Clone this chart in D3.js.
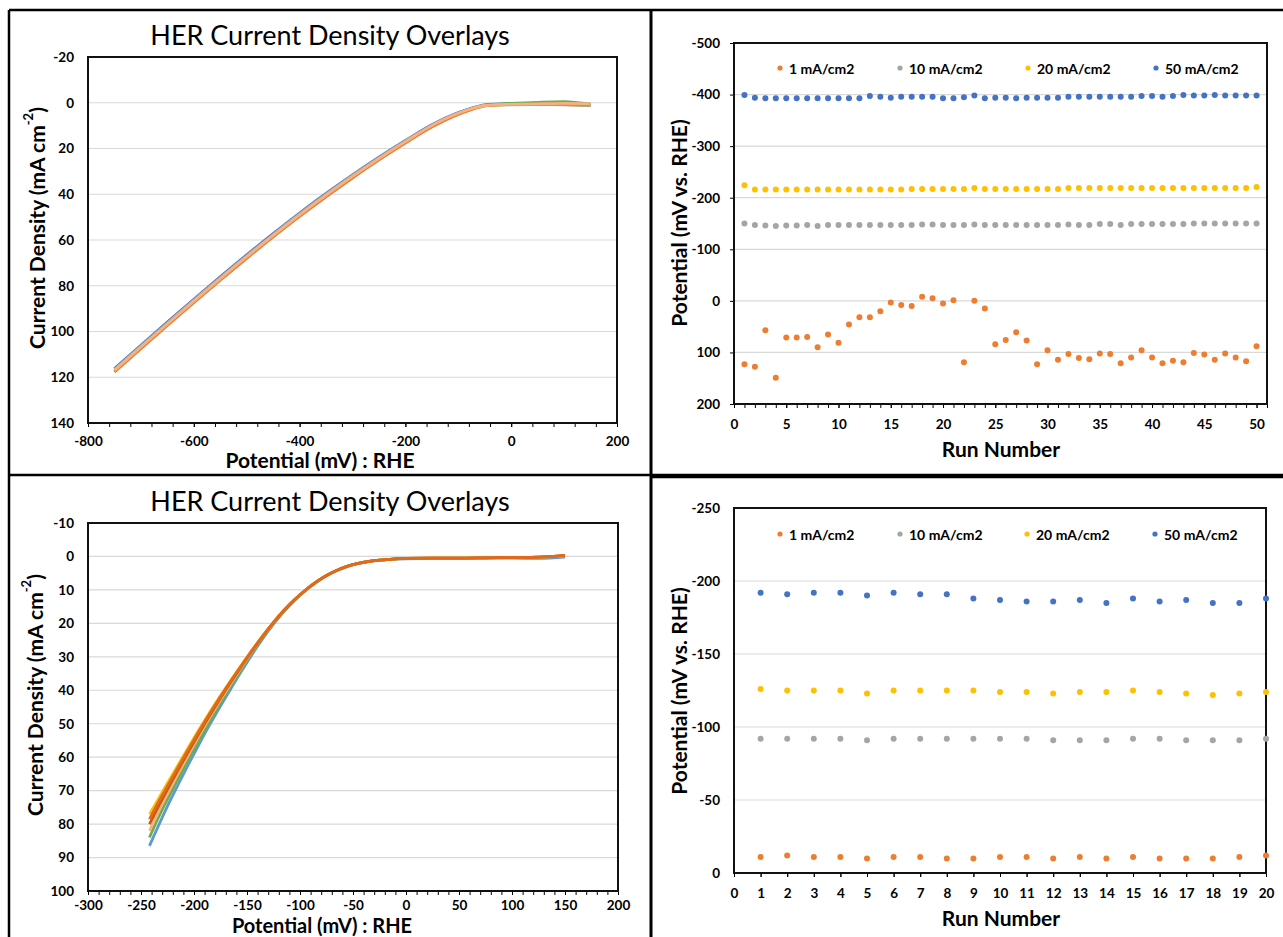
<!DOCTYPE html>
<html>
<head>
<meta charset="utf-8">
<script src="https://cdn.jsdelivr.net/npm/d3@7"></script>
<style>
  body { margin: 0; background: #fff; }
  svg { display: block; font-family: Lato, "Open Sans", sans-serif; }
  .tick text { font-weight: bold; font-size: 13.5px; fill: #000; font-family: Lato, sans-serif; }
  .tick line { stroke: #000; }
  .axis-title { font-weight: bold; font-size: 21px; fill: #000; }
  .chart-title { font-size: 27px; fill: #000; }
  .legend text { font-weight: bold; font-size: 14px; fill: #000; }
</style>
</head>
<body>
<div id="chart"></div>
<script>
// ---------- Data ----------
// Top-left: LSV overlays (potential mV vs RHE -> current density mA cm-2)
const tlPotential = [-750, -700, -650, -600, -550, -500, -450, -400, -350, -300, -250,
  -200, -150, -100, -75, -50, -25, 0, 50, 100, 150];
const tlRunA = [116.2, 106.0, 95.9, 85.9, 76.1, 66.5, 57.2, 48.2, 39.6, 31.5, 23.8, 16.5, 9.6, 4.3, 2.3, 0.9, 0.6, 0.4, 0.2, 0.0, 1.0];
const tlRunB = [117.6, 107.3, 97.1, 87.1, 77.3, 67.7, 58.4, 49.4, 40.8, 32.6, 24.8, 17.3, 10.3, 4.8, 2.8, 1.0, 0.6, 0.3, -0.2, -0.5, 0.6];
const tlRunC = [117.3, 107.1, 97.0, 87.0, 77.2, 67.6, 58.3, 49.3, 40.7, 32.5, 24.7, 17.3, 10.3, 4.9, 2.9, 1.4, 0.9, 0.8, 0.7, 0.8, 1.4];
const tlRunD = [116.6, 106.4, 96.3, 86.3, 76.5, 66.9, 57.6, 48.6, 40.0, 31.8, 24.0, 16.7, 9.8, 4.5, 2.6, 1.3, 1.0, 0.9, 0.8, 0.9, 1.2];
const tlRunE = [117.7, 107.5, 97.4, 87.4, 77.6, 68.0, 58.7, 49.7, 41.1, 32.9, 25.0, 17.6, 10.6, 5.1, 3.0, 1.4, 0.9, 0.8, 0.6, 0.5, 0.8];
const tlRunF = [117.0, 106.8, 96.7, 86.7, 76.9, 67.3, 58.0, 49.0, 40.4, 32.2, 24.4, 17.0, 10.0, 4.6, 2.6, 1.2, 0.8, 0.7, 0.5, 0.3, 0.5];

// Bottom-left: LSV overlays
const blPotential = [-242, -235, -225, -215, -205, -195, -185, -175, -165, -155, -145, -135,
  -125, -115, -105, -95, -85, -75, -65, -55, -45, -35, -25, -15, 0, 25, 50, 75, 100, 125, 150];
const blRunA = [86.5, 81.5, 74.6, 68.2, 62.0, 56.0, 50.2, 44.7, 39.4, 34.2, 29.2, 24.5, 20.2, 16.4, 13.1, 10.2, 7.8, 5.8, 4.2, 3.0, 2.1, 1.55, 1.15, 0.9, 0.7, 0.6, 0.6, 0.5, 0.5, 0.6, 0.2];
const blRunB = [84.0, 79.0, 72.5, 66.5, 60.5, 54.8, 49.2, 43.8, 38.6, 33.6, 28.7, 24.1, 20.0, 16.3, 13.0, 10.2, 7.8, 5.7, 4.1, 2.9, 2.05, 1.5, 1.1, 0.85, 0.6, 0.5, 0.5, 0.4, 0.3, 0.2, -0.2];
const blRunC = [77.0, 73.2, 67.7, 62.3, 56.9, 51.6, 46.5, 41.6, 36.9, 32.3, 27.9, 23.6, 19.6, 16.0, 12.9, 10.1, 7.7, 5.7, 4.1, 2.9, 2.05, 1.5, 1.1, 0.85, 0.6, 0.5, 0.5, 0.4, 0.3, 0.2, -0.3];
const blRunD = [82.0, 77.3, 71.0, 65.0, 59.2, 53.5, 48.1, 42.9, 37.9, 33.0, 28.3, 23.9, 19.9, 16.2, 13.0, 10.1, 7.7, 5.7, 4.1, 2.9, 2.05, 1.5, 1.1, 0.85, 0.6, 0.5, 0.5, 0.4, 0.3, 0.2, -0.2];
const blRunE = [80.0, 75.6, 69.6, 63.8, 58.2, 52.7, 47.4, 42.3, 37.4, 32.7, 28.1, 23.8, 19.8, 16.1, 12.9, 10.1, 7.7, 5.7, 4.1, 2.9, 2.05, 1.5, 1.1, 0.85, 0.6, 0.5, 0.5, 0.4, 0.3, 0.2, -0.3];
const blRunF = [78.5, 74.3, 68.6, 63.0, 57.5, 52.1, 46.9, 41.9, 37.1, 32.5, 28.0, 23.7, 19.7, 16.1, 12.9, 10.1, 7.7, 5.7, 4.1, 2.9, 2.05, 1.5, 1.1, 0.85, 0.6, 0.5, 0.5, 0.4, 0.3, 0.2, -0.3];

// Top-right: potential (mV vs RHE) per run, 50 runs
const legendNames = ["1 mA/cm2", "10 mA/cm2", "20 mA/cm2", "50 mA/cm2"];
const trRuns = d3.range(1, 51);
const tr1mA = [123, 128, 57, 149, 71, 71, 70, 90, 65, 81, 46, 32, 32, 20, 3, 8, 10, -8, -5, 5,
  -1, 119, 0, 15, 84, 76, 61, 77, 123, 96, 114, 103, 111, 113, 102, 103, 121, 110, 96, 110,
  121, 116, 119, 101, 104, 114, 102, 110, 117, 88];
const tr10mA = [-150, -147, -146, -145, -146, -146, -147, -145, -147, -147, -147, -147, -147, -147, -147, -147, -147, -148, -148, -147,
  -147, -147, -148, -147, -147, -147, -147, -147, -147, -147, -147, -148, -147, -147, -149, -149, -147, -149, -149, -149,
  -149, -149, -149, -150, -150, -150, -150, -150, -150, -150];
const tr20mA = [-224, -216, -216, -216, -216, -216, -216, -216, -216, -216, -216, -216, -216, -216, -216, -216, -217, -217, -217, -217,
  -217, -217, -219, -217, -217, -217, -217, -217, -217, -217, -217, -219, -219, -219, -219, -219, -219, -219, -219, -219,
  -219, -219, -219, -219, -219, -219, -219, -219, -219, -221];
const tr50mA = [-399, -394, -393, -393, -393, -393, -393, -393, -393, -393, -393, -393, -397, -396, -394, -396, -396, -396, -396, -393,
  -393, -395, -398, -393, -394, -394, -393, -394, -394, -394, -394, -396, -396, -396, -396, -396, -396, -396, -397, -397,
  -396, -397, -399, -398, -398, -399, -398, -398, -398, -398];

// Bottom-right: potential per run, 20 runs
const brRuns = d3.range(1, 21);
const br1mA = [-11, -12, -11, -11, -10, -11, -11, -10, -10, -11, -11, -10, -11, -10, -11, -10, -10, -10, -11, -12];
const br10mA = [-92, -92, -92, -92, -91, -92, -92, -92, -92, -92, -92, -91, -91, -91, -92, -92, -91, -91, -91, -92];
const br20mA = [-126, -125, -125, -125, -123, -125, -125, -125, -125, -124, -124, -123, -124, -124, -125, -124, -123, -122, -123, -124];
const br50mA = [-192, -191, -192, -192, -190, -192, -191, -191, -188, -187, -186, -186, -187, -185, -188, -186, -187, -185, -185, -188];

// ---------- Styles ----------
const W = 1283, H = 937;
const tlColors = ["#4472c4", "#70ad47", "#ffc000", "#a5a5a5", "#ed7d31", "#f4b183"];
const blColors = ["#5b9bd5", "#70ad47", "#ffc000", "#f4b183", "#c55a11", "#e06a1c"];
const dotColors = ["#ed7d31", "#a5a5a5", "#ffc000", "#4472c4"];

const svg = d3.select("#chart").append("svg")
  .attr("width", W)
  .attr("height", H);

// Builds scales, grid, axes and the plot box for one panel
function setupPlot(p) {
  const x = d3.scaleLinear().domain(p.xDomain).range([p.left, p.right]);
  const y = d3.scaleLinear().domain(p.yDomain).range([p.top, p.bottom]);
  const g = svg.append("g");

  // horizontal gridlines
  g.append("g").selectAll("line")
    .data(p.yTicks.slice(1, -1))
    .join("line")
    .attr("x1", p.left).attr("x2", p.right)
    .attr("y1", d => y(d)).attr("y2", d => y(d))
    .attr("stroke", "#d9d9d9")
    .attr("stroke-width", 1.2);

  const yAxis = g.append("g")
    .attr("transform", "translate(" + p.left + ",0)")
    .call(d3.axisLeft(y).tickValues(p.yTicks).tickSize(p.yTickSize)
      .tickPadding(14 - p.yTickSize).tickFormat(d => String(d)));
  yAxis.select(".domain").remove();

  const xMinor = g.append("g")
    .attr("transform", "translate(0," + p.bottom + ")")
    .call(d3.axisBottom(x).tickValues(p.xMinor).tickSize(4).tickFormat(""));
  xMinor.select(".domain").remove();

  const xAxis = g.append("g")
    .attr("transform", "translate(0," + p.bottom + ")")
    .call(d3.axisBottom(x).tickValues(p.xTicks).tickSize(4).tickPadding(p.xPad)
      .tickFormat(d => String(d)));
  xAxis.select(".domain").remove();

  g.append("rect")
    .attr("x", p.left).attr("y", p.top)
    .attr("width", p.right - p.left).attr("height", p.bottom - p.top)
    .attr("fill", "none")
    .attr("stroke", "#111")
    .attr("stroke-width", 2);

  // axis titles
  g.append("text")
    .attr("class", "axis-title")
    .attr("x", p.xTitle[0]).attr("y", p.xTitle[1])
    .attr("text-anchor", "middle")
    .style("font-size", p.xTitleSize || null)
    .text(p.xLabel);

  const yt = g.append("text")
    .attr("class", "axis-title")
    .attr("text-anchor", "middle")
    .attr("dominant-baseline", "central")
    .attr("transform", "translate(" + p.yTitle[0] + "," + p.yTitle[1] + ")rotate(-90)");
  if (p.ySup) {
    yt.append("tspan").text(p.yLabel);
    yt.append("tspan").attr("baseline-shift", "super").style("font-size", "13px").text(p.ySup);
    yt.append("tspan").text(")");
  } else {
    yt.text(p.yLabel);
  }

  if (p.title) {
    g.append("text")
      .attr("class", "chart-title")
      .attr("x", p.title[0]).attr("y", p.title[1])
      .attr("text-anchor", "middle")
      .text("HER Current Density Overlays");
  }
  return { g, x, y };
}

function drawCurves(p, potential, runs, colors) {
  const { g, x, y } = setupPlot(p);
  const line = d3.line()
    .curve(d3.curveMonotoneX)
    .x(d => x(d[0]))
    .y(d => y(d[1]));
  g.append("g").selectAll("path")
    .data(runs.map(r => potential.map((v, i) => [v, r[i]])))
    .join("path")
    .attr("fill", "none")
    .attr("stroke", (d, i) => colors[i])
    .attr("stroke-width", 2.8)
    .attr("stroke-linejoin", "round")
    .attr("d", line);
}

function drawDots(p, runs, series, legendX, legendY) {
  const { g, x, y } = setupPlot(p);
  series.forEach((vals, s) => {
    g.append("g").selectAll("circle")
      .data(runs.map((r, i) => [r, vals[i]]))
      .join("circle")
      .attr("cx", d => x(d[0]))
      .attr("cy", d => y(d[1]))
      .attr("r", 3)
      .attr("fill", dotColors[s]);
  });

  const legend = g.append("g").attr("class", "legend");
  legendNames.forEach((name, i) => {
    legend.append("circle")
      .attr("cx", legendX[i]).attr("cy", legendY)
      .attr("r", 2.6)
      .attr("fill", dotColors[i]);
    legend.append("text")
      .attr("x", legendX[i] + 9).attr("y", legendY)
      .attr("dominant-baseline", "central")
      .text(name);
  });
}

// ---------- Panels ----------
drawCurves({
  left: 88, right: 617, top: 57, bottom: 423,
  xDomain: [-800, 200], yDomain: [-20, 140],
  xTicks: d3.range(-800, 201, 200), xMinor: d3.range(-800, 201, 40), xPad: 9,
  yTicks: d3.range(-20, 141, 20), yTickSize: 0,
  xLabel: "Potential (mV) : RHE", xTitle: [320, 468],
  yLabel: "Current Density (mA cm", ySup: "-2", yTitle: [36, 228],
  title: [330, 45]
}, tlPotential, [tlRunA, tlRunB, tlRunC, tlRunD, tlRunE, tlRunF], tlColors);

drawCurves({
  left: 88, right: 618, top: 523, bottom: 891,
  xDomain: [-300, 200], yDomain: [-10, 100],
  xTicks: d3.range(-300, 201, 50), xMinor: d3.range(-300, 201, 10), xPad: 5,
  yTicks: d3.range(-10, 101, 10), yTickSize: 0,
  xLabel: "Potential (mV) : RHE", xTitle: [322, 933], xTitleSize: "20px",
  yLabel: "Current Density (mA cm", ySup: "-2", yTitle: [34, 695],
  title: [330, 511]
}, blPotential, [blRunA, blRunB, blRunC, blRunD, blRunE, blRunF], blColors);

drawDots({
  left: 734, right: 1267, top: 43, bottom: 404,
  xDomain: [0, 51], yDomain: [-500, 200],
  xTicks: d3.range(0, 51, 5), xMinor: d3.range(0, 52, 1), xPad: 11,
  yTicks: d3.range(-500, 201, 100), yTickSize: 4,
  xLabel: "Run Number", xTitle: [1001, 457],
  yLabel: "Potential (mV vs. RHE)", yTitle: [678, 223]
}, trRuns, [tr1mA, tr10mA, tr20mA, tr50mA], [780, 900, 1028, 1156], 68);

drawDots({
  left: 734, right: 1266, top: 508, bottom: 873,
  xDomain: [0, 20], yDomain: [-250, 0],
  xTicks: d3.range(0, 21, 1), xMinor: d3.range(0, 21, 1), xPad: 11,
  yTicks: d3.range(-250, 1, 50), yTickSize: 0,
  xLabel: "Run Number", xTitle: [1001, 926],
  yLabel: "Potential (mV vs. RHE)", yTitle: [678, 691]
}, brRuns, [br1mA, br10mA, br20mA, br50mA], [780, 900, 1027, 1155], 534);

// ---------- Panel frame lines ----------
const frame = svg.append("g").attr("stroke", "#000");
frame.append("line").attr("x1", 9).attr("x2", W).attr("y1", 10).attr("y2", 10).attr("stroke-width", 2.5);
frame.append("line").attr("x1", 9).attr("x2", 9).attr("y1", 10).attr("y2", H).attr("stroke-width", 2.5);
frame.append("line").attr("x1", 651).attr("x2", 651).attr("y1", 10).attr("y2", H).attr("stroke-width", 3);
frame.append("line").attr("x1", 9).attr("x2", 651).attr("y1", 475).attr("y2", 475).attr("stroke-width", 2.5);
frame.append("line").attr("x1", 651).attr("x2", W).attr("y1", 476).attr("y2", 476).attr("stroke-width", 4.5);
</script>
</body>
</html>
